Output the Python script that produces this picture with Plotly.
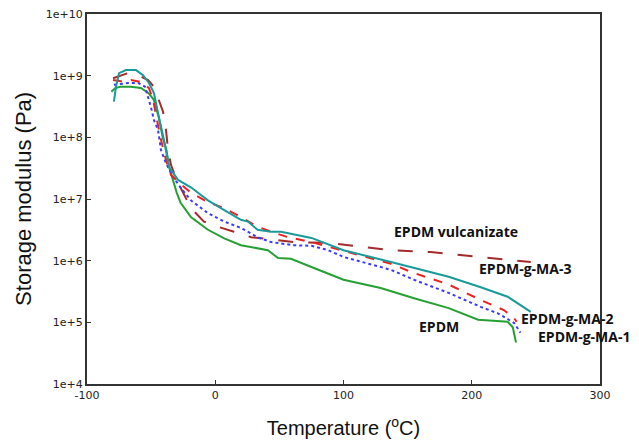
import math
import plotly.graph_objects as go

# EPDM (green, solid)
epdm_T = [-81, -78, -74, -66, -58, -52, -48, -44, -41, -38, -36, -33, -30, -27, -19, -6, 7, 20, 36, 41, 49, 59, 75, 100, 129, 155, 182, 205, 228, 232, 234.5]
epdm_E = [5.5e8, 6.3e8, 6.6e8, 6.6e8, 6.3e8, 5.2e8, 4.1e8, 2.1e8, 1.0e8, 6.2e7, 3.3e7, 2.0e7, 1.26e7, 8.7e6, 5.1e6, 3.2e6, 2.3e6, 1.78e6, 1.58e6, 1.48e6, 1.1e6, 1.07e6, 7.9e5, 4.9e5, 3.6e5, 2.45e5, 1.7e5, 1.1e5, 1.02e5, 8.3e4, 4.7e4]

# EPDM-g-MA-3 (teal, solid)
ma3_T = [-79, -77.4, -75, -69.6, -61.8, -56.3, -51.7, -47.8, -43.9, -40, -36, -29, -19, -5.7, 7, 20, 25.5, 33, 43.5, 51.3, 75, 100, 137, 155, 182, 207, 228, 246]
ma3_E = [3.8e8, 6.6e8, 1.1e9, 1.23e9, 1.23e9, 1.02e9, 7.6e8, 5.2e8, 2.1e8, 9.1e7, 3.3e7, 2.04e7, 1.55e7, 9.5e6, 6.6e6, 4.6e6, 4.3e6, 3.16e6, 2.95e6, 2.95e6, 2.34e6, 1.48e6, 9.5e5, 7.6e5, 5.5e5, 3.7e5, 2.6e5, 1.48e5]

# EPDM-g-MA-2 (red, dashed)
ma2_T = [-79.7, -73.5, -65.7, -58, -51.7, -48.5, -45.4, -42.3, -38.4, -34.5, -29, -19, -5.7, 7, 20, 33, 43.5, 56.7, 75, 100, 121.5, 137, 155, 182, 207, 225, 233, 235]
ma2_E = [8.5e8, 8.1e8, 8.5e8, 7.9e8, 6.3e8, 4.1e8, 1.9e8, 9.1e7, 4.3e7, 2.45e7, 1.9e7, 1.26e7, 8.9e6, 7.1e6, 5.1e6, 3.55e6, 2.95e6, 2.4e6, 2.0e6, 1.45e6, 1.1e6, 8.9e5, 6.3e5, 4.1e5, 2.3e5, 1.58e5, 1.17e5, 1.02e5]

# EPDM-g-MA-1 (blue, dotted)
ma1_T = [-79, -68, -60, -54.7, -50, -47.8, -44.6, -42.3, -38.4, -33, -26.7, -19, -5.7, 7, 20, 33, 43.5, 61.4, 75, 88, 100, 114, 137, 155, 182, 207, 220, 233, 238]
ma1_E = [7.1e8, 7.6e8, 7.6e8, 6.6e8, 3.0e8, 1.9e8, 1.32e8, 6.2e7, 3.8e7, 2.3e7, 1.5e7, 9.5e6, 5.9e6, 4.3e6, 3.4e6, 2.4e6, 2.0e6, 1.78e6, 1.74e6, 1.48e6, 1.15e6, 9.5e5, 7.1e5, 4.9e5, 3.0e5, 1.78e5, 1.41e5, 9.8e4, 6.8e4]

# EPDM vulcanizate (dark red, long dashes)
vul_T = [-79.7, -68, -60, -52.4, -47.8, -43.9, -40.7, -38.4, -36.8, -34.5, -29, -25, -19, -8.8, 2, 14.6, 28, 41, 61.4, 88, 114, 137, 168, 207, 233, 246]
vul_E = [9.1e8, 1.1e9, 1.02e9, 8.5e8, 6.6e8, 4.1e8, 2.6e8, 1.32e8, 6.2e7, 3.55e7, 1.82e7, 1.26e7, 7.1e6, 4.3e6, 3.55e6, 2.95e6, 2.4e6, 2.24e6, 2.0e6, 1.95e6, 1.66e6, 1.48e6, 1.38e6, 1.15e6, 1.02e6, 9.5e5]

x_ticks = [-100, 0, 100, 200, 300]
x_tick_labels = ["-100", "0", "100", "200", "300"]
y_ticks = [1e4, 1e5, 1e6, 1e7, 1e8, 1e9, 1e10]
y_tick_labels = ["1e+4", "1e+5", "1e+6", "1e+7", "1e+8", "1e+9", "1e+10"]

label_texts = ["EPDM vulcanizate", "EPDM-g-MA-3", "EPDM-g-MA-2", "EPDM-g-MA-1", "EPDM"]
label_T = [138, 204, 237, 250, 157]
label_E = [3.0e6, 7.6e5, 1.15e5, 5.8e4, 8.6e4]

fig = go.Figure()
series = [
    (vul_T, vul_E, "#a52a2a", "longdash"),
    (epdm_T, epdm_E, "#25a032", "solid"),
    (ma1_T, ma1_E, "#3a3aff", "dot"),
    (ma2_T, ma2_E, "#f02020", "dash"),
    (ma3_T, ma3_E, "#1a9a9a", "solid"),
]
for t, e, c, d in series:
    fig.add_trace(go.Scatter(x=t, y=e, mode="lines",
                             line=dict(color=c, width=2, dash=d)))

for txt, x, y in zip(label_texts, label_T, label_E):
    fig.add_annotation(x=x, y=math.log10(y), yref="y", xref="x", text=f"<b>{txt}</b>",
                       showarrow=False, xanchor="left", yanchor="middle",
                       font=dict(family="Open Sans", size=14, color="#111"))

# y-axis title placed as a rotated annotation
fig.add_annotation(x=-0.125, y=0.5, xref="paper", yref="paper",
                   text="Storage modulus (Pa)", textangle=-90, showarrow=False,
                   xanchor="center", yanchor="middle",
                   font=dict(family="Liberation Sans", size=22, color="#111"))

axis_common = dict(showline=True, linecolor="#333", linewidth=2, mirror=True,
                   ticks="inside", ticklen=4, tickcolor="#333", showgrid=False,
                   zeroline=False, automargin=False, ticklabeloverflow="allow",
                   tickfont=dict(family="DejaVu Sans", size=11, color="#222"))
fig.update_xaxes(range=[-100, 300], tickvals=x_ticks, ticktext=x_tick_labels,
                 title=dict(text="Temperature (<sup>o</sup>C)",
                            font=dict(family="Liberation Sans", size=20, color="#111"),
                            standoff=20),
                 **axis_common)
fig.update_yaxes(type="log", range=[4, 10], tickvals=y_ticks, ticktext=y_tick_labels,
                 **axis_common)
fig.update_layout(width=639, height=446, showlegend=False,
                  margin=dict(l=79, r=47, t=6, b=70),
                  plot_bgcolor="white", paper_bgcolor="white")
fig.write_html("out.html")
